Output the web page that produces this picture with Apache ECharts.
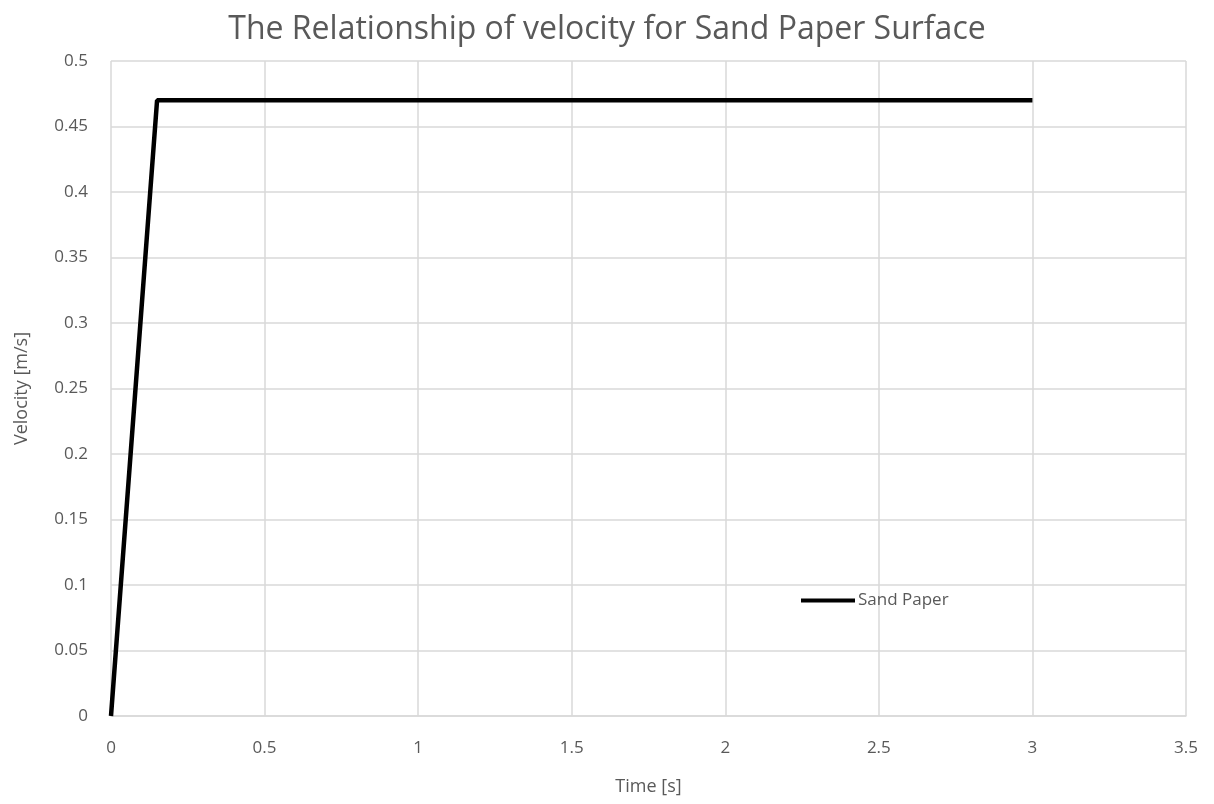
<!DOCTYPE html>
<html><head><meta charset="utf-8">
<script src="https://cdn.jsdelivr.net/npm/echarts@6/dist/echarts.min.js"></script>
<style>html,body{margin:0;padding:0;background:#fff}#c{width:1214px;height:804px}</style>
</head><body><div id="c"></div>
<script>
const timeS = [0, 0.15, 3];
const velocity = [0, 0.47, 0.47];
const seriesName = 'Sand Paper';
const titleText = 'The Relationship of velocity for Sand Paper Surface';
const xName = 'Time [s]';
const yName = 'Velocity [m/s]';

const font = '"Open Sans", sans-serif';
const chart = echarts.init(document.getElementById('c'));
chart.setOption({
  animation: false,
  title: { text: titleText, left: 'center', top: 9,
    textStyle: { fontFamily: font, fontSize: 32, fontWeight: 'normal', color: '#595959' } },
  grid: { left: 111, right: 28, top: 61, bottom: 88 },
  legend: { data: [seriesName], left: 796, top: 587, itemWidth: 54, itemHeight: 4, itemGap: 4,
    icon: 'rect',
    textStyle: { fontFamily: font, fontSize: 17, color: '#595959', padding: [0,0,0,-2] } },
  xAxis: { type: 'value', min: 0, max: 3.5, interval: 0.5,
    name: xName, nameLocation: 'middle', nameGap: 62,
    nameTextStyle: { fontFamily: font, fontSize: 18, color: '#595959' },
    axisLine: { show: true, lineStyle: { color: '#d9d9d9', width: 1.5 } },
    axisTick: { show: false },
    axisLabel: { fontFamily: font, fontSize: 17, color: '#595959', margin: 24 },
    splitLine: { show: true, lineStyle: { color: '#d9d9d9', width: 1.5 } } },
  yAxis: { type: 'value', min: 0, max: 0.5, interval: 0.05,
    name: yName, nameLocation: 'middle', nameGap: 80,
    nameTextStyle: { fontFamily: font, fontSize: 18, color: '#595959' },
    axisLine: { show: false }, axisTick: { show: false },
    axisLabel: { fontFamily: font, fontSize: 17, color: '#595959', margin: 23,
      formatter: v => String(+v.toFixed(2)) },
    splitLine: { show: true, lineStyle: { color: '#d9d9d9', width: 1.5 } } },
  series: [{ name: seriesName, type: 'line', data: timeS.map((t,i)=>[t, velocity[i]]),
    showSymbol: false, symbol: 'none', lineStyle: { color: '#000', width: 4.5 }, itemStyle: { color: '#000' } }]
});
</script></body></html>
